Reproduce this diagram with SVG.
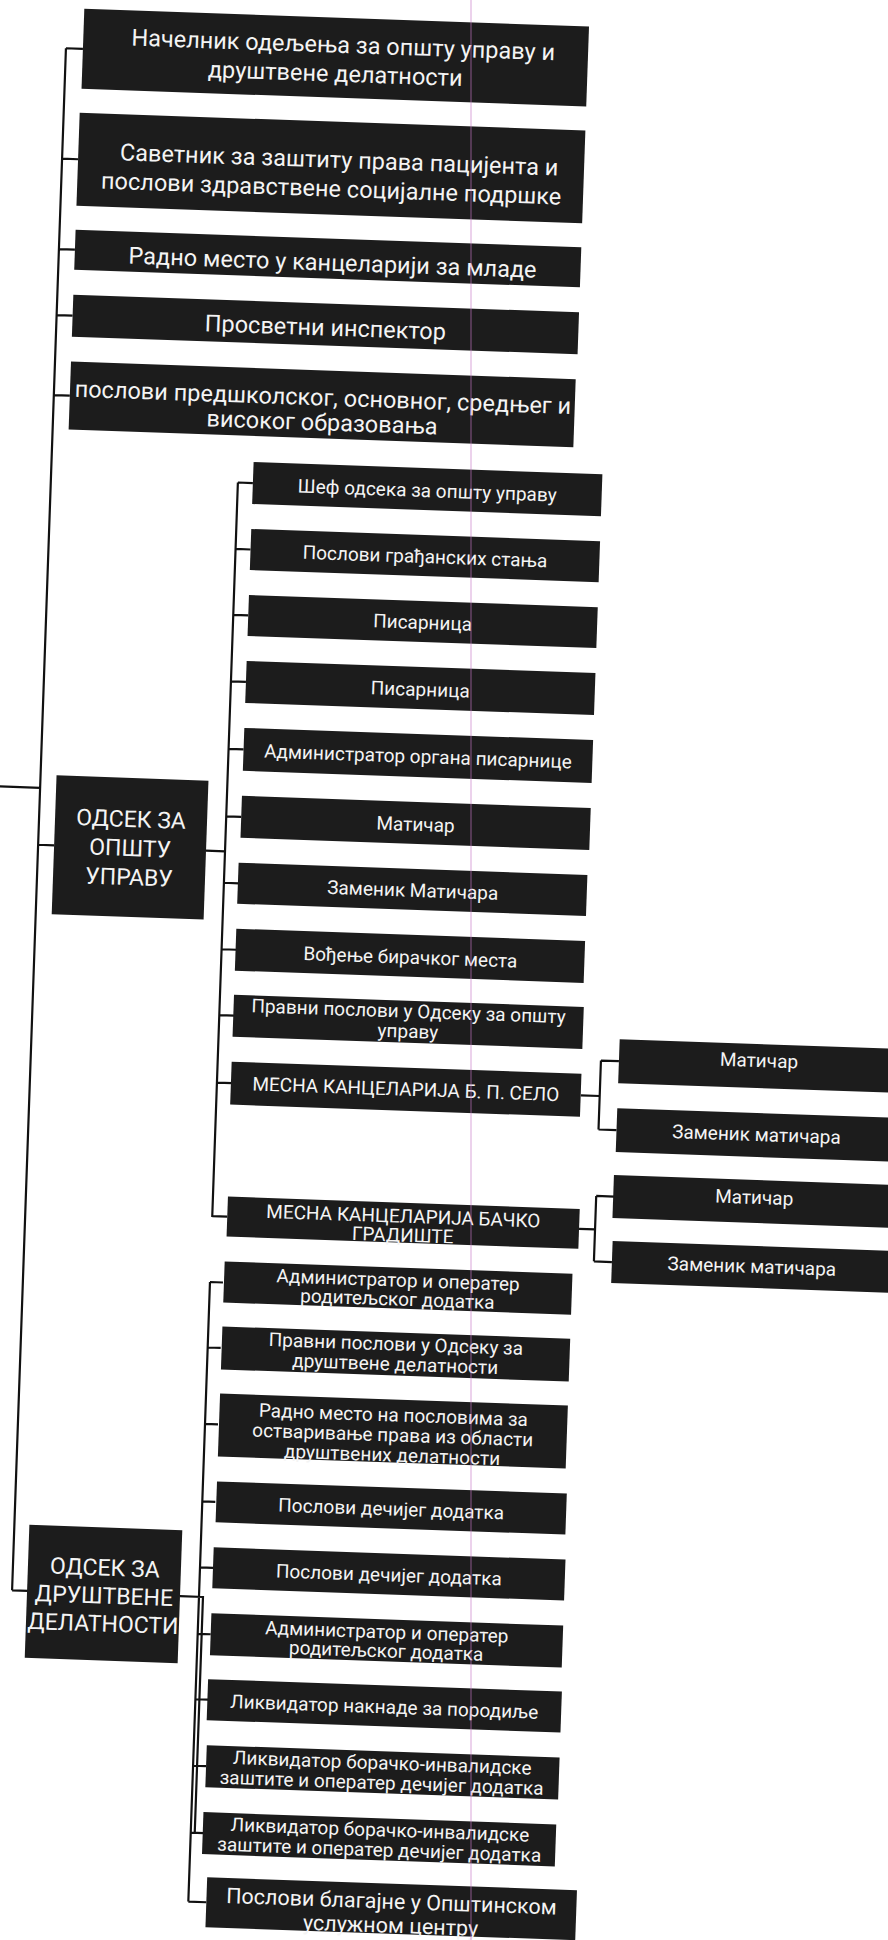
<svg xmlns="http://www.w3.org/2000/svg" width="888" height="1940" viewBox="0 0 888 1940">
<style>
.b{fill:#1c1c1c}
.t{fill:#f4f4f4;font-family:Roboto,'Open Sans','DejaVu Sans',sans-serif;text-anchor:middle}
.L{font-size:23.5px}
.H{font-size:23px}
.s{font-size:19px}
.c{fill:none;stroke:#111;stroke-width:2.2}
</style>
<rect width="888" height="1940" fill="#fff"/>
<g transform="rotate(2 444 970)">
<g id="connectors">
<path class="c" d="M-40 802H34M34 62V1605M34 62H51M34 172.5H50M34 263H50M34 329H50M34 409H50M34 859H50M34 1605H50"/>
<path class="c" d="M202 859H221M221 490V1225M221 490H236M221 556.5H236M221 622.5H236M221 689H236M221 756.5H236M221 824H236M221 890.5H236M221 957H236M221 1023H236M221 1090.5H236M221 1224H236"/>
<path class="c" d="M585 1090.5H604M604 1055V1124M604 1055H622M604 1124H622"/>
<path class="c" d="M588 1224H604M604 1190.5V1256M604 1190.5H622M604 1256H622"/>
<path class="c" d="M202 1605H225V1841M221 1290V1910M221 1290H234M221 1355.5H234M221 1432H234M221 1509.5H234M221 1575.5H234M221 1642H234M221 1707.5H234M221 1774H234M221 1841H234M221 1910H239"/>
</g>
<g id="b1"><rect class="b" x="51" y="22" width="505" height="80"/><text class="t L" x="311" y="57">Начелник одељења за општу управу и</text><text class="t L" x="304" y="86">друштвене делатности</text></g>
<g id="b2"><rect class="b" x="50" y="126" width="506" height="93"/><text class="t L" x="311" y="172">Саветник за заштиту права пацијента и</text><text class="t L" x="304" y="201">послови здравствене социјалне подршке</text></g>
<g id="b3"><rect class="b" x="50" y="243" width="506" height="40"/><text class="t L" x="308" y="275">Радно место у канцеларији за младе</text></g>
<g id="b4"><rect class="b" x="50" y="308" width="506" height="42"/><text class="t L" x="303" y="340">Просветни инспектор</text></g>
<g id="b5"><rect class="b" x="50" y="375" width="505" height="68"/><text class="t L" x="303" y="410">послови предшколског, основног, средњег и</text><text class="t L" x="303" y="435">високог образовања</text></g>
<g id="o1"><rect class="b" x="50" y="789" width="152" height="139"/><text class="t H" x="126" y="838">ОДСЕК ЗА</text><text class="t H" x="126" y="867">ОПШТУ</text><text class="t H" x="126" y="896">УПРАВУ</text></g>
<g id="s1"><rect class="b" x="236" y="469" width="349" height="42"/><text class="t s" x="410.5" y="498">Шеф одсека за општу управу</text></g>
<g id="s2"><rect class="b" x="236" y="536" width="349" height="41"/><text class="t s" x="410.5" y="564">Послови грађанских стања</text></g>
<g id="s3"><rect class="b" x="236" y="602" width="349" height="41"/><text class="t s" x="410.5" y="630">Писарница</text></g>
<g id="s4"><rect class="b" x="236" y="668" width="349" height="42"/><text class="t s" x="410.5" y="697">Писарница</text></g>
<g id="s5"><rect class="b" x="236" y="735" width="349" height="43"/><text class="t s" x="410.5" y="764">Администратор органа писарнице</text></g>
<g id="s6"><rect class="b" x="236" y="803" width="349" height="42"/><text class="t s" x="410.5" y="832">Матичар</text></g>
<g id="s7"><rect class="b" x="235" y="870" width="349" height="41"/><text class="t s" x="410" y="898">Заменик Матичара</text></g>
<g id="s8"><rect class="b" x="235" y="936" width="349" height="42"/><text class="t s" x="410" y="965">Вођење бирачког места</text></g>
<g id="s9"><rect class="b" x="235" y="1002" width="350" height="42"/><text class="t s" x="410" y="1019">Правни послови у Одсеку за општу</text><text class="t s" x="410" y="1039">управу</text></g>
<g id="s10"><rect class="b" x="235" y="1069" width="350" height="43"/><text class="t s" x="410" y="1097">МЕСНА КАНЦЕЛАРИЈА Б. П. СЕЛО</text></g>
<g id="s11"><rect class="b" x="236" y="1204" width="352" height="40"/><text class="t s" x="412" y="1224">МЕСНА КАНЦЕЛАРИЈА БАЧКО</text><text class="t s" x="412" y="1243">ГРАДИШТЕ</text></g>
<g id="m1"><rect class="b" x="622" y="1033" width="290" height="44"/><text class="t s" x="762" y="1056">Матичар</text></g>
<g id="m2"><rect class="b" x="622" y="1102" width="290" height="44"/><text class="t s" x="762" y="1130">Заменик матичара</text></g>
<g id="m3"><rect class="b" x="621" y="1169" width="291" height="43"/><text class="t s" x="762" y="1193">Матичар</text></g>
<g id="m4"><rect class="b" x="622" y="1235" width="290" height="42"/><text class="t s" x="762" y="1262">Заменик матичара</text></g>
<g id="o2"><rect class="b" x="49" y="1539" width="153" height="133"/><text class="t H" x="126" y="1587">ОДСЕК ЗА</text><text class="t H" x="126" y="1615">ДРУШТВЕНЕ</text><text class="t H" x="126" y="1643">ДЕЛАТНОСТИ</text></g>
<g id="d1"><rect class="b" x="235" y="1269" width="348" height="41"/><text class="t s" x="409" y="1288">Администратор и оператер</text><text class="t s" x="409" y="1307">родитељског додатка</text></g>
<g id="d2"><rect class="b" x="235" y="1334" width="348" height="43"/><text class="t s" x="409" y="1352">Правни послови у Одсеку за</text><text class="t s" x="409" y="1372">друштвене делатности</text></g>
<g id="d3"><rect class="b" x="235" y="1401" width="348" height="63"/><text class="t s" x="409" y="1423">Радно место на пословима за</text><text class="t s" x="409" y="1443">остваривање права из области</text><text class="t s" x="409" y="1463">друштвених делатности</text></g>
<g id="d4"><rect class="b" x="235" y="1489" width="350" height="41"/><text class="t s" x="410" y="1517">Послови дечијег додатка</text></g>
<g id="d5"><rect class="b" x="234" y="1555" width="352" height="41"/><text class="t s" x="410" y="1583">Послови дечијег додатка</text></g>
<g id="d6"><rect class="b" x="234" y="1621" width="352" height="42"/><text class="t s" x="410" y="1640">Администратор и оператер</text><text class="t s" x="410" y="1659">родитељског додатка</text></g>
<g id="d7"><rect class="b" x="233" y="1687" width="354" height="41"/><text class="t s" x="410" y="1715">Ликвидатор накнаде за породиље</text></g>
<g id="d8"><rect class="b" x="234" y="1753" width="353" height="42"/><text class="t s" x="410" y="1771">Ликвидатор борачко-инвалидске</text><text class="t s" x="410" y="1791">заштите и оператер дечијег додатка</text></g>
<g id="d9"><rect class="b" x="233" y="1820" width="353" height="42"/><text class="t s" x="410" y="1838">Ликвидатор борачко-инвалидске</text><text class="t s" x="410" y="1858">заштите и оператер дечијег додатка</text></g>
<g id="d10"><rect class="b" x="239" y="1885" width="370" height="50"/><text class="t" style="font-size:21.5px" x="424" y="1910">Послови благајне у Општинском</text><text class="t" style="font-size:21.5px" x="424" y="1934">услужном центру</text></g>
</g>
<line x1="471" y1="0" x2="471" y2="1940" stroke="#c878c8" stroke-width="1.2" opacity="0.55"/>
</svg>
